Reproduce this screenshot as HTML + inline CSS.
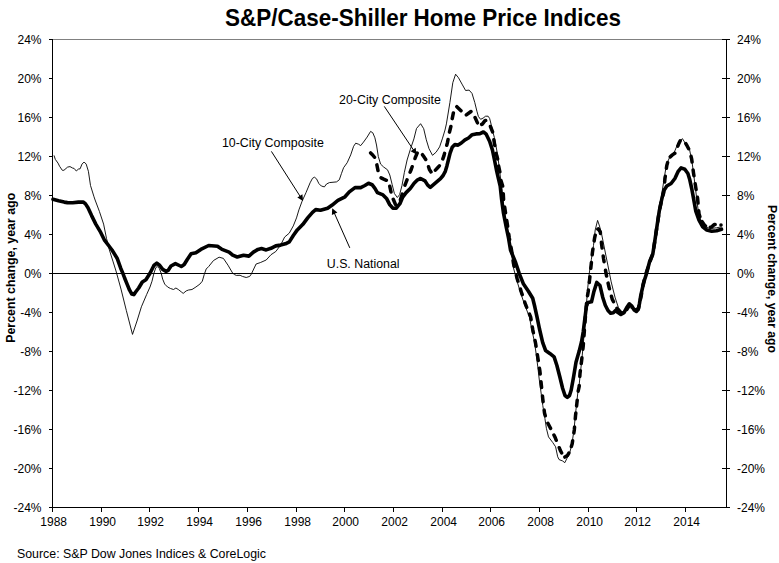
<!DOCTYPE html>
<html><head><meta charset="utf-8"><style>
html,body{margin:0;padding:0;background:#fff;}
svg{display:block;}
text{font-family:"Liberation Sans",sans-serif;font-size:12px;fill:#000;}
.t{font-weight:bold;font-size:23.8px;}
.ax{font-weight:bold;font-size:12px;}
</style></head><body>
<svg width="779" height="563" viewBox="0 0 779 563">
<rect width="779" height="563" fill="#fff"/>
<text class="t" x="225" y="25.6" textLength="396" lengthAdjust="spacingAndGlyphs">S&amp;P/Case-Shiller Home Price Indices</text>
<line x1="52" y1="39.5" x2="726" y2="39.5" stroke="#808080" stroke-width="1"/><line x1="52" y1="273.5" x2="726" y2="273.5" stroke="#000" stroke-width="1"/><line x1="52.5" y1="39" x2="52.5" y2="508" stroke="#000" stroke-width="1"/><line x1="726.5" y1="39" x2="726.5" y2="508" stroke="#000" stroke-width="1"/><line x1="52" y1="507.5" x2="727" y2="507.5" stroke="#000" stroke-width="1"/><line x1="49" y1="39.5" x2="52" y2="39.5" stroke="#000" stroke-width="1"/><line x1="722" y1="39.5" x2="730" y2="39.5" stroke="#000" stroke-width="1"/><line x1="49" y1="78.5" x2="52" y2="78.5" stroke="#000" stroke-width="1"/><line x1="722" y1="78.5" x2="730" y2="78.5" stroke="#000" stroke-width="1"/><line x1="49" y1="117.5" x2="52" y2="117.5" stroke="#000" stroke-width="1"/><line x1="722" y1="117.5" x2="730" y2="117.5" stroke="#000" stroke-width="1"/><line x1="49" y1="156.5" x2="52" y2="156.5" stroke="#000" stroke-width="1"/><line x1="722" y1="156.5" x2="730" y2="156.5" stroke="#000" stroke-width="1"/><line x1="49" y1="195.5" x2="52" y2="195.5" stroke="#000" stroke-width="1"/><line x1="722" y1="195.5" x2="730" y2="195.5" stroke="#000" stroke-width="1"/><line x1="49" y1="234.5" x2="52" y2="234.5" stroke="#000" stroke-width="1"/><line x1="722" y1="234.5" x2="730" y2="234.5" stroke="#000" stroke-width="1"/><line x1="49" y1="273.5" x2="52" y2="273.5" stroke="#000" stroke-width="1"/><line x1="722" y1="273.5" x2="730" y2="273.5" stroke="#000" stroke-width="1"/><line x1="49" y1="312.5" x2="52" y2="312.5" stroke="#000" stroke-width="1"/><line x1="722" y1="312.5" x2="730" y2="312.5" stroke="#000" stroke-width="1"/><line x1="49" y1="351.5" x2="52" y2="351.5" stroke="#000" stroke-width="1"/><line x1="722" y1="351.5" x2="730" y2="351.5" stroke="#000" stroke-width="1"/><line x1="49" y1="390.5" x2="52" y2="390.5" stroke="#000" stroke-width="1"/><line x1="722" y1="390.5" x2="730" y2="390.5" stroke="#000" stroke-width="1"/><line x1="49" y1="429.5" x2="52" y2="429.5" stroke="#000" stroke-width="1"/><line x1="722" y1="429.5" x2="730" y2="429.5" stroke="#000" stroke-width="1"/><line x1="49" y1="468.5" x2="52" y2="468.5" stroke="#000" stroke-width="1"/><line x1="722" y1="468.5" x2="730" y2="468.5" stroke="#000" stroke-width="1"/><line x1="49" y1="507.5" x2="52" y2="507.5" stroke="#000" stroke-width="1"/><line x1="722" y1="507.5" x2="730" y2="507.5" stroke="#000" stroke-width="1"/><line x1="52.5" y1="507" x2="52.5" y2="512" stroke="#000" stroke-width="1"/><line x1="101.5" y1="507" x2="101.5" y2="512" stroke="#000" stroke-width="1"/><line x1="149.5" y1="507" x2="149.5" y2="512" stroke="#000" stroke-width="1"/><line x1="198.5" y1="507" x2="198.5" y2="512" stroke="#000" stroke-width="1"/><line x1="247.5" y1="507" x2="247.5" y2="512" stroke="#000" stroke-width="1"/><line x1="296.5" y1="507" x2="296.5" y2="512" stroke="#000" stroke-width="1"/><line x1="344.5" y1="507" x2="344.5" y2="512" stroke="#000" stroke-width="1"/><line x1="393.5" y1="507" x2="393.5" y2="512" stroke="#000" stroke-width="1"/><line x1="442.5" y1="507" x2="442.5" y2="512" stroke="#000" stroke-width="1"/><line x1="490.5" y1="507" x2="490.5" y2="512" stroke="#000" stroke-width="1"/><line x1="539.5" y1="507" x2="539.5" y2="512" stroke="#000" stroke-width="1"/><line x1="588.5" y1="507" x2="588.5" y2="512" stroke="#000" stroke-width="1"/><line x1="636.5" y1="507" x2="636.5" y2="512" stroke="#000" stroke-width="1"/><line x1="685.5" y1="507" x2="685.5" y2="512" stroke="#000" stroke-width="1"/>
<text x="41.5" y="44" text-anchor="end">24%</text><text x="737" y="44">24%</text><text x="41.5" y="83" text-anchor="end">20%</text><text x="737" y="83">20%</text><text x="41.5" y="122" text-anchor="end">16%</text><text x="737" y="122">16%</text><text x="41.5" y="161" text-anchor="end">12%</text><text x="737" y="161">12%</text><text x="41.5" y="200" text-anchor="end">8%</text><text x="737" y="200">8%</text><text x="41.5" y="239" text-anchor="end">4%</text><text x="737" y="239">4%</text><text x="41.5" y="278" text-anchor="end">0%</text><text x="737" y="278">0%</text><text x="41.5" y="317" text-anchor="end">-4%</text><text x="737" y="317">-4%</text><text x="41.5" y="356" text-anchor="end">-8%</text><text x="737" y="356">-8%</text><text x="41.5" y="395" text-anchor="end">-12%</text><text x="737" y="395">-12%</text><text x="41.5" y="434" text-anchor="end">-16%</text><text x="737" y="434">-16%</text><text x="41.5" y="473" text-anchor="end">-20%</text><text x="737" y="473">-20%</text><text x="41.5" y="512" text-anchor="end">-24%</text><text x="737" y="512">-24%</text><text x="53.7" y="526" text-anchor="middle">1988</text><text x="102.7" y="526" text-anchor="middle">1990</text><text x="150.7" y="526" text-anchor="middle">1992</text><text x="199.7" y="526" text-anchor="middle">1994</text><text x="248.7" y="526" text-anchor="middle">1996</text><text x="297.7" y="526" text-anchor="middle">1998</text><text x="345.7" y="526" text-anchor="middle">2000</text><text x="394.7" y="526" text-anchor="middle">2002</text><text x="443.7" y="526" text-anchor="middle">2004</text><text x="491.7" y="526" text-anchor="middle">2006</text><text x="540.7" y="526" text-anchor="middle">2008</text><text x="589.7" y="526" text-anchor="middle">2010</text><text x="637.7" y="526" text-anchor="middle">2012</text><text x="686.7" y="526" text-anchor="middle">2014</text>
<text class="ax" transform="translate(15.4,267.8) rotate(-90)" text-anchor="middle" textLength="150" lengthAdjust="spacingAndGlyphs">Percent change, year ago</text>
<text class="ax" transform="translate(767.6,279) rotate(90)" text-anchor="middle" textLength="148" lengthAdjust="spacingAndGlyphs">Percent change, year ago</text>
<polyline points="54.0,155.4 55.3,159.4 58.0,163.1 59.6,166.3 62.3,170.3 63.9,170.3 67.6,167.1 70.0,166.6 72.7,168.1 74.1,168.4 76.3,171.0 78.4,169.1 80.1,168.8 82.0,164.1 84.1,162.0 86.2,164.1 88.4,171.3 90.5,185.5 94.0,196.8 95.1,200.0 99.4,211.4 103.6,224.1 106.5,238.4 109.3,249.7 112.9,261.1 116.0,271.0 121.0,289.1 126.3,310.4 132.5,334.4 137.0,321.0 141.4,306.8 146.7,294.4 150.0,287.0 152.0,281.2 153.9,273.3 155.9,267.5 157.3,266.5 159.3,268.5 161.2,273.3 162.7,279.2 164.7,284.1 167.6,287.0 170.5,288.5 173.5,289.5 175.9,288.0 178.3,289.5 181.3,291.9 183.2,293.4 186.2,290.9 188.6,290.0 192.0,289.5 195.9,287.0 199.9,284.1 202.3,281.2 204.3,274.3 206.2,269.0 208.7,266.5 213.5,260.5 219.1,257.2 223.4,258.4 228.0,265.2 232.5,272.9 234.4,274.5 236.3,275.4 240.1,275.3 242.4,276.4 246.2,277.5 249.7,276.4 251.3,274.1 256.1,264.0 260.3,262.6 266.2,260.0 271.0,254.7 275.8,251.5 280.6,245.1 284.6,237.1 289.3,233.1 293.3,225.9 296.5,217.9 298.9,209.9 302.1,201.2 306.1,192.4 310.1,182.8 312.5,178.3 314.4,177.2 316.5,178.8 318.9,183.6 321.3,186.0 324.4,186.9 326.5,184.0 329.4,182.6 336.5,181.9 339.3,179.8 341.5,173.4 343.6,167.7 347.2,162.7 350.7,154.9 353.6,146.3 355.7,143.2 358.5,144.2 360.7,145.6 363.5,142.1 367.1,137.1 370.6,131.4 372.8,132.8 374.9,137.8 376.5,145.0 378.3,156.5 380.6,164.1 383.5,166.9 387.5,169.8 389.8,175.0 392.1,184.3 394.4,193.5 397.3,197.5 399.6,194.7 402.0,185.4 404.3,172.7 407.1,160.0 410.3,149.5 413.9,138.9 416.5,128.5 420.6,123.7 423.7,128.7 426.3,139.8 429.0,148.7 432.5,155.3 436.1,152.2 439.6,146.9 442.3,138.9 445.0,130.0 446.4,123.9 449.9,102.6 452.8,82.7 455.6,74.2 458.5,77.8 462.0,84.1 465.6,90.5 469.1,90.1 472.0,93.4 474.8,102.6 476.9,111.2 478.4,116.5 480.6,119.3 483.1,118.1 485.6,116.2 488.1,116.2 489.6,118.4 490.8,123.0 492.4,129.9 494.3,137.3 495.1,141.3 497.7,155.2 499.5,170.0 501.5,186.0 503.0,200.0 504.8,214.0 506.8,228.0 508.8,240.0 511.5,252.0 513.0,266.0 516.2,278.4 520.3,291.9 524.6,304.7 529.4,316.8 531.8,329.9 534.4,341.3 536.3,355.0 537.8,366.9 539.2,379.0 540.7,390.0 542.8,405.6 544.9,418.4 546.4,428.4 548.5,436.9 552.8,442.6 555.6,446.8 557.7,456.8 559.1,459.6 562.7,461.0 564.8,462.7 567.0,458.2 569.8,452.5 571.9,444.0 574.0,430.0 575.3,415.9 576.7,403.1 578.0,391.0 579.0,386.3 580.3,373.9 581.8,359.7 583.2,345.5 584.8,325.0 586.4,305.0 587.5,290.0 589.2,273.9 591.3,259.7 593.5,245.5 595.2,230.0 597.6,220.4 599.5,226.0 601.6,234.0 603.2,242.0 604.8,250.0 606.4,258.0 608.0,265.9 609.6,274.0 611.2,281.9 613.2,290.0 615.2,297.9 618.4,307.5 621.5,311.8 626.0,311.0 629.8,307.3 634.7,311.0 638.5,308.5 641.6,297.3 643.4,284.9 645.9,272.4 649.7,262.5 652.8,254.0 655.0,239.8 657.1,225.6 659.2,208.1 661.6,195.3 664.0,179.3 666.4,165.0 670.4,155.4 674.4,152.0 677.6,144.2 682.4,138.6 686.4,145.0 689.6,149.8 692.0,161.8 693.5,173.0 695.1,185.7 696.7,198.5 698.3,211.3 701.0,221.0 704.7,226.5 708.5,228.0 712.0,228.3 716.5,227.8 721.5,226.8" fill="none" stroke="#000" stroke-width="0.9" stroke-linejoin="round"/><path d="M370.62,152.98 L372.70,155.00 L374.51,157.26 M376.87,164.85 L378.01,170.54 M381.09,177.83 L383.70,179.10 L386.35,180.28 M389.78,186.31 L390.98,191.98 M393.26,199.31 L395.50,204.50 L395.61,204.59 M400.44,199.67 L402.28,194.16 M404.98,185.22 L406.00,182.50 L407.02,179.78 M410.12,172.19 L411.20,169.50 L412.17,166.77 M414.98,158.47 L415.30,157.50 L417.17,153.10 M422.48,154.70 L424.10,157.10 L425.72,159.50 M428.54,166.73 L429.40,169.50 L431.02,171.90 M435.41,170.11 L437.40,168.00 L439.35,165.86 M442.84,158.94 L443.80,156.20 L444.55,153.40 M446.75,145.20 L447.50,142.40 L448.05,139.55 M449.48,132.11 L449.50,132.00 L450.86,126.48 M452.22,118.64 L453.38,112.96 M456.85,106.65 L461.00,110.70 M466.32,114.96 L470.99,111.52 M475.06,117.58 L477.46,122.86 M481.68,124.42 L482.30,124.10 L485.00,120.60 L485.66,120.43 M490.45,126.50 L492.58,131.89 M493.84,139.84 L494.78,145.56 M496.01,153.32 L497.66,158.88 M498.65,166.11 L499.85,171.78 M500.96,180.43 L502.67,185.97 M503.27,193.66 L503.57,199.46 M504.67,207.12 L505.40,212.00 L505.53,212.85 M506.74,220.50 L507.60,226.00 L507.63,226.23 M508.72,233.90 L509.30,238.00 L509.60,239.63 M511.00,247.25 L511.50,250.00 L511.94,252.97 M513.08,260.63 L513.50,263.50 L514.18,266.32 M516.42,275.58 L517.10,278.40 L517.96,281.17 M520.44,289.13 L521.30,291.90 L522.22,294.65 M524.68,301.95 L525.60,304.70 L526.71,307.38 M529.49,314.12 L530.60,316.80 L531.08,319.66 M532.32,327.04 L532.80,329.90 L533.39,332.74 M535.01,340.56 L535.60,343.40 L536.04,346.27 M537.36,354.73 L537.80,357.60 L538.25,360.47 M539.45,368.23 L539.90,371.10 L540.20,373.98 M541.00,381.72 L541.30,384.60 L541.60,387.48 M542.46,395.93 L542.80,399.20 L543.11,401.69 M544.15,410.12 L544.50,413.00 L545.25,415.80 M547.88,423.22 L549.20,425.80 L550.57,428.35 M553.93,434.99 L555.20,437.60 L556.29,440.29 M559.24,447.70 L560.30,450.40 L561.67,452.96 M564.89,457.05 L567.40,455.60 L568.83,453.08 M571.36,446.48 L572.20,443.70 L572.64,440.83 M573.86,432.87 L574.30,430.00 L574.55,427.11 M575.25,418.79 L575.50,415.90 L575.82,413.02 M576.58,405.98 L576.90,403.10 L577.21,400.22 M578.18,391.17 L578.20,391.00 L579.20,386.30 L579.25,385.48 M579.82,376.39 L580.00,373.50 L580.36,370.62 M581.24,363.58 L581.60,360.70 L581.92,357.82 M582.88,349.18 L583.20,346.30 L583.41,343.41 M583.98,335.82 L584.40,330.04 M584.97,322.45 L585.00,322.00 L585.44,316.67 M586.06,309.09 L586.53,303.31 M587.51,295.77 L588.20,291.70 L588.39,290.04 M589.27,282.48 L589.60,279.60 L589.90,276.72 M590.80,268.28 L591.10,265.40 L591.40,262.52 M592.20,254.78 L592.50,251.90 L592.93,249.03 M594.17,240.87 L594.60,238.00 L595.24,235.17 M597.83,229.20 L598.30,228.80 L600.30,232.00 L600.45,233.40 M601.39,242.22 L601.70,245.10 L602.10,247.97 M603.20,255.93 L603.60,258.80 L604.08,261.66 M605.52,270.34 L606.00,273.20 L606.60,276.04 M608.09,283.12 L608.70,286.00 L609.44,288.76 M611.45,296.30 L612.20,299.10 L613.53,301.68 M616.96,308.33 L617.30,309.00 L620.96,312.48 M626.91,309.44 L629.50,305.00 L629.95,305.49 M635.14,310.18 L638.50,308.50 L638.93,306.50 M640.51,299.19 L641.20,296.00 L641.61,293.49 M642.80,286.11 L643.00,284.90 L644.12,280.46 M646.09,273.24 L647.94,267.75 M650.37,260.67 L652.36,255.22 M653.75,247.89 L654.64,242.15 M655.75,234.75 L656.59,229.02 M657.71,221.61 L658.60,215.88 M659.82,208.50 L661.01,202.82 M662.89,195.58 L663.70,192.80 L663.95,189.91 M664.65,181.99 L664.90,179.10 L665.30,176.23 M666.40,168.27 L666.80,165.40 L667.60,162.61 M670.22,156.81 L672.40,154.90 L674.80,153.27 M677.80,146.08 L678.90,143.40 L680.20,140.81 M685.82,143.71 L687.30,146.20 L688.64,148.77 M691.05,156.37 L691.70,159.20 L692.08,162.08 M693.12,170.02 L693.50,172.90 L693.94,175.77 M695.16,183.73 L695.60,186.60 L696.08,189.46 M697.42,197.33 L697.60,198.40 L698.03,203.09 M698.74,210.81 L699.00,213.70 L699.88,216.46 M701.99,221.48 L704.70,225.50 L705.48,226.04 M710.37,227.31 L711.40,227.10 L714.20,224.60 L715.19,224.57" fill="none" stroke="#000" stroke-width="3.5" stroke-linecap="round" stroke-linejoin="round"/><polyline points="53.0,199.3 58.5,200.8 64.2,202.1 67.4,202.6 72.7,202.8 78.4,202.1 83.4,202.1 85.5,203.9 88.0,207.8 91.6,215.6 95.8,224.1 100.1,231.3 104.3,239.8 108.6,245.5 112.0,250.0 117.1,258.2 120.7,268.2 122.8,273.1 124.6,278.0 127.2,284.4 129.6,290.2 131.8,294.0 133.8,294.6 136.0,291.5 138.7,288.0 142.3,282.0 145.9,279.8 150.0,273.3 153.9,265.5 156.8,263.1 159.8,265.5 162.7,269.4 166.1,271.4 168.1,270.4 171.0,266.0 175.4,263.6 179.3,265.5 181.3,266.5 184.2,264.5 187.1,259.7 191.1,253.8 195.9,252.8 200.8,249.4 208.7,245.5 217.5,246.2 222.0,249.4 229.1,252.1 232.7,255.2 237.2,257.0 243.5,255.2 248.9,256.1 253.4,252.1 257.9,249.4 261.5,248.6 266.2,249.9 271.0,248.3 275.8,245.9 280.6,245.1 285.4,243.8 289.3,241.9 293.3,235.5 297.3,229.9 302.9,224.3 307.7,217.9 312.5,212.3 315.7,209.6 320.5,210.3 327.6,208.3 332.2,205.1 337.9,200.4 345.0,196.8 349.3,191.9 355.0,187.6 360.7,187.6 364.9,185.5 368.5,183.3 372.1,184.7 374.9,188.3 377.4,192.6 383.0,194.9 386.5,198.4 389.7,204.6 392.8,208.2 396.3,208.2 399.9,203.7 402.5,197.5 406.1,192.6 410.3,188.5 414.1,183.3 417.6,179.8 420.6,178.5 425.0,180.9 427.7,185.1 430.3,187.3 433.5,184.6 436.7,181.9 440.5,178.7 443.1,175.5 445.3,171.3 446.9,165.9 448.5,159.5 450.1,153.1 452.2,147.3 454.9,144.6 458.1,145.1 461.3,143.0 465.0,139.8 468.5,138.0 472.2,134.7 476.0,133.9 480.0,133.6 483.4,132.0 486.2,134.2 489.6,141.3 492.4,149.9 494.6,160.5 496.7,171.2 498.3,178.0 500.2,186.0 501.5,198.4 503.4,212.6 506.2,226.8 508.5,238.0 510.5,250.0 515.7,262.8 519.2,273.4 523.5,284.1 528.4,291.2 532.7,298.3 534.8,306.8 537.0,316.8 539.5,329.0 542.7,342.7 545.6,350.5 549.8,353.4 554.1,356.9 556.9,365.5 559.8,376.8 562.6,388.2 565.0,395.5 567.3,397.3 569.5,395.5 571.2,390.0 573.6,376.7 576.0,362.3 579.2,351.1 581.6,341.5 583.2,332.0 584.8,319.2 586.4,306.4 588.0,302.4 591.5,301.8 593.7,292.3 596.8,282.4 600.0,285.6 602.7,297.2 605.3,305.2 608.0,310.5 610.6,313.2 613.3,312.7 615.5,310.5 617.7,312.3 620.9,314.5 624.0,312.7 626.6,307.8 629.3,303.8 631.9,306.1 634.2,310.0 636.4,311.4 638.2,309.6 639.5,303.4 640.8,295.4 642.6,287.4 644.4,280.3 646.1,275.0 649.7,261.2 652.8,254.0 655.0,239.8 657.1,225.6 659.2,211.4 661.6,200.0 663.7,190.9 666.8,186.0 671.1,183.5 674.9,178.5 678.0,171.7 681.1,167.9 684.8,169.2 687.9,173.5 689.8,179.8 691.7,188.5 693.3,197.2 695.8,211.2 699.0,220.2 702.7,226.8 706.8,230.0 711.7,231.3 716.6,230.8 721.5,229.2" fill="none" stroke="#000" stroke-width="3.6" stroke-linejoin="round" stroke-linecap="round"/><circle cx="721" cy="225" r="1.8" fill="#000"/>
<line x1="271.4" y1="151.4" x2="300.41" y2="196.79" stroke="#000" stroke-width="1"/><polygon points="303.10,201.00 297.34,197.56 302.40,194.33" fill="#000"/><line x1="384.3" y1="106.4" x2="413.72" y2="150.35" stroke="#000" stroke-width="1"/><polygon points="416.50,154.50 410.67,151.18 415.66,147.85" fill="#000"/><line x1="349.8" y1="247.9" x2="334.23" y2="212.87" stroke="#000" stroke-width="1"/><polygon points="332.20,208.30 337.38,212.56 331.90,215.00" fill="#000"/><text x="221.9" y="146.7" textLength="102" lengthAdjust="spacingAndGlyphs">10-City Composite</text><text x="339.1" y="104.3" textLength="101.8" lengthAdjust="spacingAndGlyphs">20-City Composite</text><text x="326.8" y="268" textLength="72.7" lengthAdjust="spacingAndGlyphs">U.S. National</text>
<text x="17" y="557.6" textLength="249" lengthAdjust="spacingAndGlyphs">Source: S&amp;P Dow Jones Indices &amp; CoreLogic</text>
</svg>
</body></html>
